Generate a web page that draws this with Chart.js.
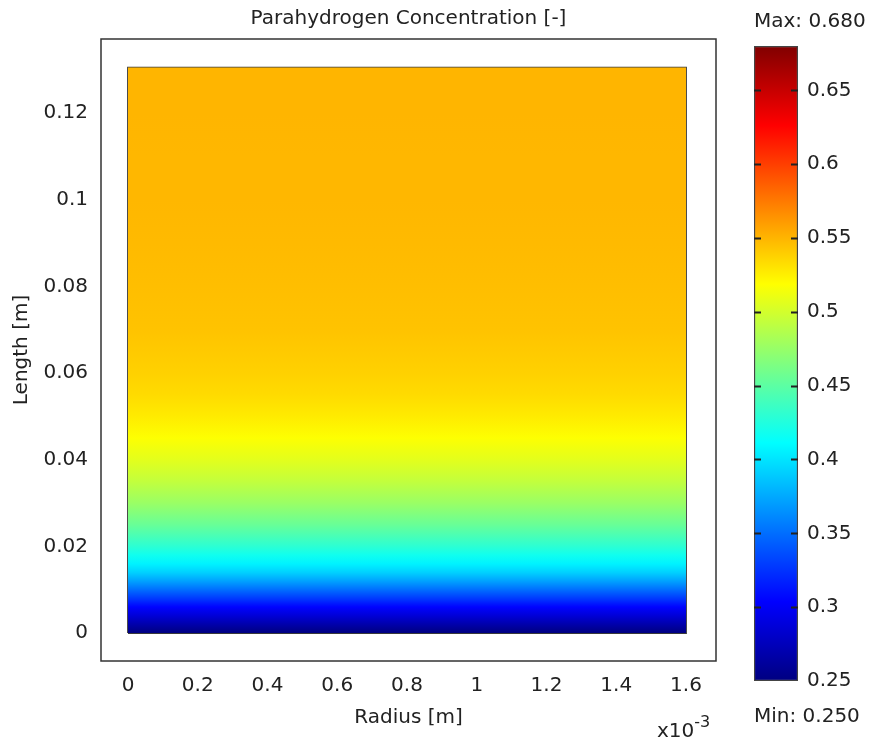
<!DOCTYPE html>
<html>
<head>
<meta charset="utf-8">
<script src="https://cdn.jsdelivr.net/npm/chart.js@4.4.0/dist/chart.umd.min.js"></script>
<style>
  body { margin: 0; background: #fff; width: 875px; height: 739px; overflow: hidden; position: relative; }
  #mainBox { position: absolute; left: 0; top: 0; width: 740px; height: 739px; }
  #barBox { position: absolute; left: 740px; top: 0; width: 135px; height: 739px; }
  #expo { position: absolute; left: 657px; top: 714px; font: 20px "DejaVu Sans", sans-serif; color: #222; }
  #expo sup { font-size: 16px; position: relative; top: -2px; }
</style>
</head>
<body>
<div id="mainBox"><canvas id="chMain"></canvas></div>
<div id="barBox"><canvas id="chBar"></canvas></div>
<div id="expo">x10<sup>-3</sup></div>
<script>
// domain size [m]
var radiusMax = 0.0016;
var lengthMax = 0.1305;

// concentration profile along the length (same for every radius)
var lengths = [0, 0.002, 0.004, 0.006, 0.008, 0.010, 0.012, 0.014, 0.016, 0.018, 0.020, 0.025, 0.030,
               0.035, 0.040, 0.045, 0.050, 0.055, 0.060, 0.065, 0.070, 0.080, 0.090, 0.100, 0.110, 0.120, 0.1305];
var conc = [0.250, 0.268, 0.287, 0.305, 0.328, 0.350, 0.372, 0.392, 0.406, 0.418, 0.430, 0.455, 0.476,
            0.493, 0.507, 0.518, 0.527, 0.534, 0.538, 0.541, 0.544, 0.546, 0.548, 0.549, 0.549, 0.550, 0.550];

// color range
var cMin = 0.250;
var cMax = 0.680;

// tick labels
var xTicks = [0, 0.2, 0.4, 0.6, 0.8, 1, 1.2, 1.4, 1.6];   // x10^-3 m
var yTicks = [0, 0.02, 0.04, 0.06, 0.08, 0.1, 0.12];
var cbTicks = [0.25, 0.3, 0.35, 0.4, 0.45, 0.5, 0.55, 0.6, 0.65];

// jet colormap
var cmapPos = [0, 0.125, 0.375, 0.625, 0.875, 1];
var cmapRGB = [[0, 0, 128], [0, 0, 255], [0, 255, 255], [255, 255, 0], [255, 0, 0], [128, 0, 0]];

function jet(v) {
    var t = Math.max(0, Math.min(1, (v - cMin) / (cMax - cMin)));
    for (var i = 1; i < cmapPos.length; i++) {
        if (t <= cmapPos[i]) {
            var f = (t - cmapPos[i - 1]) / (cmapPos[i] - cmapPos[i - 1]);
            var a = cmapRGB[i - 1], b = cmapRGB[i];
            return 'rgb(' + Math.round(a[0] + (b[0] - a[0]) * f) + ',' +
                Math.round(a[1] + (b[1] - a[1]) * f) + ',' +
                Math.round(a[2] + (b[2] - a[2]) * f) + ')';
        }
    }
    return 'rgb(128,0,0)';
}

var txtColor = '#222';
var font20 = { family: '"DejaVu Sans", sans-serif', size: 20 };

// surface gradient along the length axis
function surfaceFill(context) {
    var chart = context.chart;
    if (!chart.chartArea) return null;
    var y = chart.scales.y;
    var y0 = y.getPixelForValue(0), y1 = y.getPixelForValue(lengthMax);
    var g = chart.ctx.createLinearGradient(0, y0, 0, y1);
    for (var i = 0; i < lengths.length; i++) {
        g.addColorStop(lengths[i] / lengthMax, jet(conc[i]));
    }
    return g;
}

var frameBox = {
    id: 'frameBox',
    afterDraw: function(chart) {
        var a = chart.chartArea, ctx = chart.ctx;
        ctx.save();
        ctx.strokeStyle = '#333';
        ctx.lineWidth = 1.5;
        ctx.strokeRect(a.left, a.top, a.right - a.left, a.bottom - a.top);
        ctx.restore();
    }
};

new Chart(document.getElementById('chMain'), {
    type: 'scatter',
    data: {
        datasets: [{
            data: [{ x: 0, y: lengthMax }, { x: radiusMax, y: lengthMax }],
            showLine: true,
            fill: 'origin',
            borderWidth: 0,
            pointRadius: 0,
            backgroundColor: surfaceFill
        }, {
            data: [{ x: 0, y: 0 }, { x: 0, y: lengthMax }, { x: radiusMax, y: lengthMax },
                   { x: radiusMax, y: 0 }, { x: 0, y: 0 }],
            showLine: true,
            fill: false,
            borderColor: '#3a3a3a',
            borderWidth: 1.8,
            pointRadius: 0
        }]
    },
    options: {
        responsive: true,
        maintainAspectRatio: false,
        animation: false,
        layout: { padding: { left: 0, right: 24, top: 0, bottom: 0 } },
        plugins: { legend: { display: false }, tooltip: { enabled: false } },
        scales: {
            x: {
                type: 'linear', position: 'bottom',
                min: -0.0000774, max: 0.0016860,
                afterBuildTicks: function(s) { s.ticks = xTicks.map(function(v) { return { value: v * 1e-3 }; }); },
                afterFit: function(s) { s.height = 78; },
                ticks: {
                    color: txtColor, font: font20, padding: 13, maxRotation: 0,
                    callback: function(v, i) { return String(xTicks[i]); }
                },
                grid: { display: false, drawTicks: false },
                border: { display: false },
                title: { display: true, text: 'Radius [m]', color: txtColor, font: font20, padding: { top: 0, bottom: 9 } }
            },
            xTop: {
                type: 'linear', position: 'top',
                min: -0.0000774, max: 0.0016860,
                afterFit: function(s) { s.height = 39; },
                ticks: { display: false },
                grid: { display: false, drawTicks: false },
                border: { display: false },
                title: { display: true, text: 'Parahydrogen Concentration [-]', color: txtColor, font: font20, padding: { top: 7, bottom: 0 } }
            },
            y: {
                type: 'linear', position: 'left',
                min: -0.00646, max: 0.1371,
                afterBuildTicks: function(s) { s.ticks = yTicks.map(function(v) { return { value: v }; }); },
                afterFit: function(s) { s.width = 101; },
                ticks: {
                    color: txtColor, font: font20, padding: 13,
                    callback: function(v, i) { return String(yTicks[i]); }
                },
                grid: { display: false, drawTicks: false },
                border: { display: false },
                title: { display: true, text: 'Length [m]', color: txtColor, font: font20, padding: { top: 10, bottom: 0 } }
            }
        }
    },
    plugins: [frameBox]
});

// color legend
function barFill(context) {
    var chart = context.chart;
    if (!chart.chartArea) return null;
    var y = chart.scales.y;
    var g = chart.ctx.createLinearGradient(0, y.getPixelForValue(cMin), 0, y.getPixelForValue(cMax));
    for (var i = 0; i < cmapPos.length; i++) {
        var c = cmapRGB[i];
        g.addColorStop(cmapPos[i], 'rgb(' + c[0] + ',' + c[1] + ',' + c[2] + ')');
    }
    return g;
}

var barTicks = {
    id: 'barTicks',
    afterDatasetsDraw: function(chart) {
        var a = chart.chartArea, ctx = chart.ctx, y = chart.scales.y;
        ctx.save();
        ctx.strokeStyle = '#222';
        ctx.lineWidth = 2;
        cbTicks.slice(1).forEach(function(v) {
            var p = Math.round(y.getPixelForValue(v)) + 0.5;
            ctx.beginPath();
            ctx.moveTo(a.left, p); ctx.lineTo(a.left + 7, p);
            ctx.moveTo(a.right - 7, p); ctx.lineTo(a.right, p);
            ctx.stroke();
        });
        // max / min labels
        ctx.fillStyle = txtColor;
        ctx.font = '20px "DejaVu Sans", sans-serif';
        ctx.textAlign = 'left';
        ctx.textBaseline = 'middle';
        ctx.fillText('Max: ' + cMax.toFixed(3), a.left, 22);
        ctx.fillText('Min: ' + cMin.toFixed(3), a.left, 717);
        ctx.restore();
    }
};

new Chart(document.getElementById('chBar'), {
    type: 'bar',
    data: {
        labels: [''],
        datasets: [{
            data: [[cMin, cMax]],
            backgroundColor: barFill,
            borderColor: '#444',
            borderWidth: 1.5,
            borderSkipped: false,
            barPercentage: 1,
            categoryPercentage: 1
        }]
    },
    options: {
        responsive: true,
        maintainAspectRatio: false,
        animation: false,
        layout: { padding: { left: 14, right: 0, top: 46, bottom: 58 } },
        plugins: { legend: { display: false }, tooltip: { enabled: false } },
        scales: {
            x: { display: false },
            y: {
                position: 'right',
                min: cMin, max: cMax,
                afterBuildTicks: function(s) { s.ticks = cbTicks.map(function(v) { return { value: v }; }); },
                afterFit: function(s) { s.width = 77; },
                ticks: {
                    color: txtColor, font: font20, padding: 9,
                    callback: function(v, i) { return String(cbTicks[i]); }
                },
                grid: { display: false, drawTicks: false },
                border: { display: false }
            }
        }
    },
    plugins: [barTicks]
});
</script>
</body>
</html>
